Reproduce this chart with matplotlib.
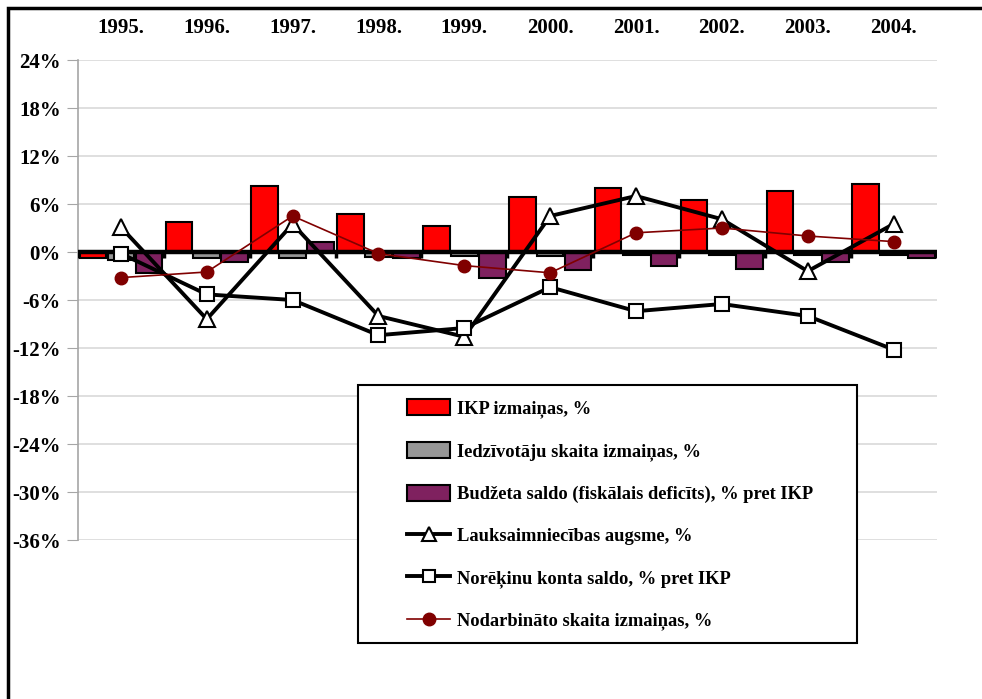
import matplotlib.pyplot as plt
import numpy as np
from matplotlib.patches import Rectangle
from matplotlib.lines import Line2D

# --- data ---
years = ['1995.', '1996.', '1997.', '1998.', '1999.', '2000.', '2001.', '2002.', '2003.', '2004.']
gdp_change = [-0.8, 3.8, 8.3, 4.7, 3.3, 6.9, 8.0, 6.5, 7.6, 8.5]
population_change = [-1.0, -0.8, -0.8, -0.6, -0.5, -0.5, -0.4, -0.4, -0.4, -0.4]
budget_balance = [-2.6, -1.3, 1.3, -0.7, -3.3, -2.3, -1.8, -2.1, -1.3, -0.8]
agri_growth = [3.1, -8.4, 3.5, -8.0, -10.6, 4.5, 7.0, 4.1, -2.4, 3.5]
current_account = [-0.2, -5.3, -6.0, -10.4, -9.5, -4.4, -7.4, -6.5, -8.0, -12.2]
employment_change = [-3.2, -2.5, 4.5, -0.2, -1.7, -2.6, 2.4, 3.0, 2.0, 1.3]

ytick_vals = [24, 18, 12, 6, 0, -6, -12, -18, -24, -30, -36]
ytick_labels = ['24%', '18%', '12%', '6%', '0%', '-6%', '-12%', '-18%', '-24%', '-30%', '-36%']

labels = ['IKP izmaiņas, %',
          'Iedzīvotāju skaita izmaiņas, %',
          'Budžeta saldo (fiskālais deficīts), % pret IKP',
          'Lauksaimniecības augsme, %',
          'Norēķinu konta saldo, % pret IKP',
          'Nodarbināto skaita izmaiņas, %']

plt.rcParams['font.family'] = ['Liberation Serif', 'DejaVu Serif']
plt.rcParams['font.weight'] = 'bold'

W, H = 982, 699
fig = plt.figure(figsize=(W / 100, H / 100), dpi=100)
ax = fig.add_axes([78 / W, 1 - 540 / H, (936.5 - 78) / W, (540 - 60) / H])

x = np.arange(len(years))
bw = 0.31
off = 0.325
ax.bar(x - off, gdp_change, bw, color='#ff0000', edgecolor='black', linewidth=1.5, zorder=2)
ax.bar(x, population_change, bw, color='#969696', edgecolor='black', linewidth=1.5, zorder=2)
ax.bar(x + off, budget_balance, bw, color='#7f215f', edgecolor='black', linewidth=1.5, zorder=2)

# zero axis with category tick marks
ax.axhline(0, color='black', lw=3.2, zorder=3)
ax.vlines(np.arange(len(years) + 1) - 0.5, -0.7, 0, color='black', lw=2.5, zorder=3)

ax.plot(x, agri_growth, color='black', lw=2.8, marker='^', markersize=12,
        markerfacecolor='white', markeredgecolor='black', markeredgewidth=1.5, zorder=5)
ax.plot(x, current_account, color='black', lw=2.8, marker='s', markersize=10,
        markerfacecolor='white', markeredgecolor='black', markeredgewidth=1.5, zorder=5)
ax.plot(x, employment_change, color='#800000', lw=1.2, marker='o', markersize=9,
        markerfacecolor='#800000', markeredgecolor='#800000', zorder=6)

ax.set_xlim(-0.5, len(years) - 0.5)
ax.set_ylim(-36, 24)
ax.set_yticks(ytick_vals)
ax.set_yticklabels(ytick_labels, fontsize=15, fontweight='bold')
ax.tick_params(axis='y', length=8, color='#a6a6a6', pad=4.5)
ax.set_xticks([])
ax.grid(axis='y', color='#d9d9d9', lw=1.2, zorder=0)
ax.set_axisbelow(True)
for s in ['top', 'right', 'bottom']:
    ax.spines[s].set_visible(False)
ax.spines['left'].set_color('#a6a6a6')
ax.spines['left'].set_linewidth(1.2)

# year labels along the top
for i, yr in enumerate(years):
    ax.text(i, 1 + (60 - 28) / 480, yr, transform=ax.get_xaxis_transform(),
            ha='center', va='center', fontsize=15, fontweight='bold')

# legend box
fig.add_artist(Rectangle((358 / W, 1 - 643 / H), (857 - 358) / W, (643 - 385) / H,
                         transform=fig.transFigure, facecolor='white', edgecolor='black',
                         lw=1.5, zorder=8))
handles = [
    Rectangle((0, 0), 1, 1, facecolor='#ff0000', edgecolor='black', lw=1.5),
    Rectangle((0, 0), 1, 1, facecolor='#969696', edgecolor='black', lw=1.5),
    Rectangle((0, 0), 1, 1, facecolor='#7f215f', edgecolor='black', lw=1.5),
    Line2D([], [], color='black', lw=2.8, marker='^', markersize=10, markerfacecolor='white',
           markeredgewidth=1.5),
    Line2D([], [], color='black', lw=2.8, marker='s', markersize=9, markerfacecolor='white',
           markeredgewidth=1.5),
    Line2D([], [], color='#800000', lw=1.2, marker='o', markersize=9, markerfacecolor='#800000'),
]
leg = fig.legend(handles, labels, loc='upper left', bbox_to_anchor=(400 / W, 1 - 392 / H),
                 frameon=False, prop={'family': 'Liberation Serif', 'weight': 'bold', 'size': 13.3},
                 handlelength=2.3, handleheight=0.95, handletextpad=0.4, labelspacing=1.28,
                 borderaxespad=0)
leg.set_zorder(9)

# outer frame (cut off at right and bottom)
fig.add_artist(Rectangle((8 / W, -0.5), 2, 1.5 - 8 / H, transform=fig.transFigure,
                         fill=False, edgecolor='black', lw=2.5, zorder=10))

fig.savefig('out.png', dpi=100)
